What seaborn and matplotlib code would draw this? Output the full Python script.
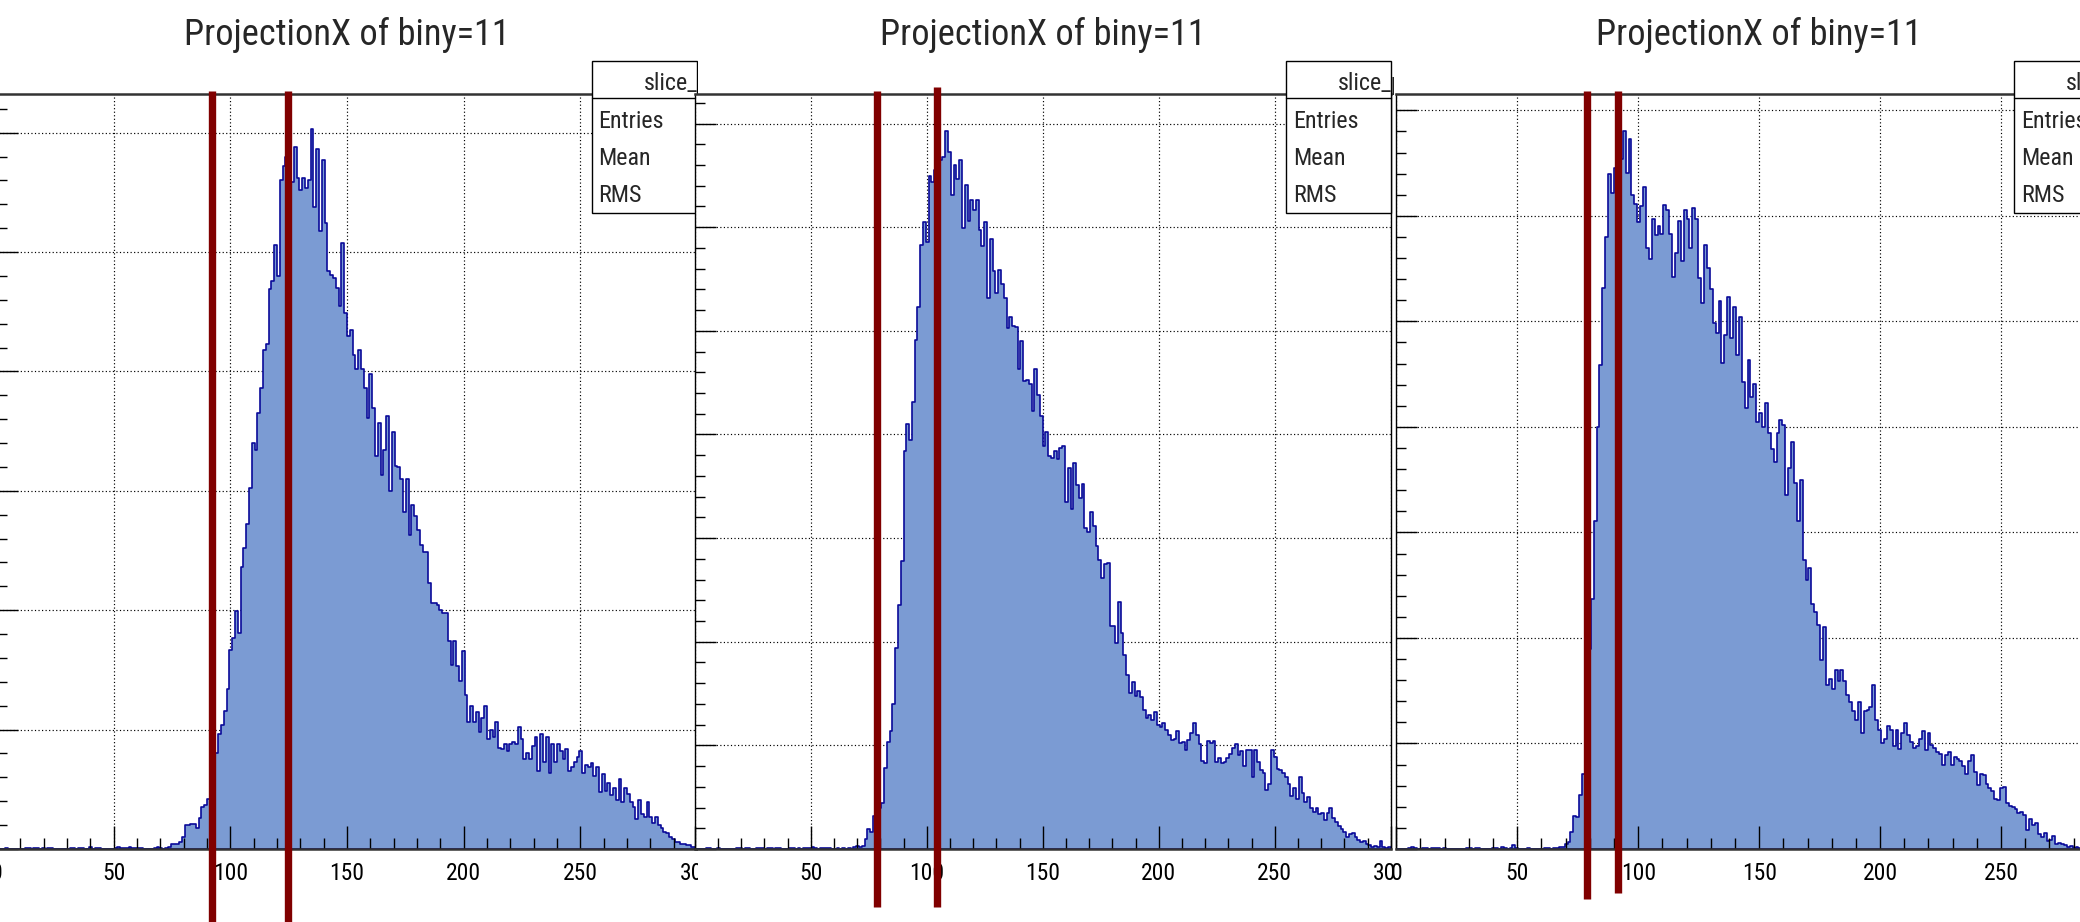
import os
import numpy as np
import pandas as pd
import matplotlib
matplotlib.use("Agg")
import matplotlib.pyplot as plt
import seaborn as sns
from matplotlib import font_manager
from matplotlib.font_manager import FontProperties
from matplotlib.lines import Line2D
from matplotlib.patches import Rectangle
from matplotlib.textpath import TextToPath
from matplotlib.ticker import MultipleLocator

# ---------------------------------------------------------------- data
TITLE = "ProjectionX of biny=11"
STATS_NAME = "slice_px"
STATS_ROWS = ["Entries", "Mean", "RMS"]
X_TICKS = [0, 50, 100, 150, 200, 250, 300]
X_MIN, X_MAX, N_BINS = 0, 300, 250

# bin contents, 250 bins of width 1.2 from 0 to 300
COUNTS_1 = [
    0, 0, 0, 1, 0, 0, 0, 0, 0, 0,
    1, 1, 0, 1, 1, 0, 1, 0, 1, 1,
    0, 0, 0, 0, 0, 0, 1, 1, 0, 1,
    1, 0, 0, 2, 0, 1, 1, 0, 0, 0,
    0, 0, 1, 2, 1, 1, 1, 2, 1, 1,
    1, 1, 0, 0, 0, 0, 1, 2, 1, 0,
    1, 2, 4, 4, 4, 6, 10, 20, 20, 21,
    21, 18, 26, 35, 37, 42, 50, 61, 80, 96,
    104, 116, 134, 167, 177, 199, 181, 236, 252, 272,
    302, 340, 334, 365, 386, 418, 423, 469, 476, 506,
    480, 560, 572, 580, 588, 559, 588, 562, 552, 562,
    554, 560, 603, 538, 586, 518, 577, 524, 484, 481,
    478, 470, 455, 508, 449, 430, 435, 414, 402, 418,
    402, 386, 361, 398, 369, 329, 357, 313, 334, 363,
    300, 349, 321, 320, 310, 282, 310, 263, 288, 279,
    267, 255, 249, 249, 223, 206, 206, 204, 200, 198,
    198, 174, 154, 174, 153, 141, 166, 129, 106, 120,
    106, 115, 98, 110, 120, 92, 100, 94, 106, 85,
    84, 88, 82, 88, 90, 88, 102, 92, 75, 80,
    75, 86, 94, 65, 96, 73, 94, 64, 88, 73,
    88, 82, 75, 84, 65, 69, 73, 77, 82, 64,
    70, 69, 72, 61, 69, 48, 63, 49, 55, 45,
    51, 41, 59, 39, 51, 46, 39, 35, 25, 41,
    29, 27, 39, 27, 22, 27, 20, 18, 14, 13,
    10, 8, 6, 6, 4, 4, 3, 3, 2, 2,
]
COUNTS_2 = [
    0, 0, 0, 0, 1, 1, 0, 0, 1, 0,
    0, 0, 0, 0, 0, 1, 1, 0, 1, 1,
    0, 0, 1, 1, 1, 0, 1, 1, 0, 1,
    1, 0, 0, 0, 1, 1, 0, 1, 0, 1,
    1, 1, 2, 1, 0, 1, 1, 1, 1, 0,
    0, 1, 0, 1, 0, 1, 0, 2, 3, 2,
    3, 10, 19, 16, 32, 36, 40, 44, 78, 103,
    114, 140, 194, 235, 278, 384, 410, 395, 431, 491,
    523, 583, 605, 586, 649, 644, 655, 660, 665, 668,
    693, 673, 631, 660, 646, 665, 599, 641, 606, 626,
    617, 626, 597, 582, 605, 532, 589, 558, 536, 559,
    545, 532, 503, 513, 505, 504, 463, 490, 452, 453,
    449, 423, 463, 438, 418, 389, 402, 379, 377, 384,
    376, 387, 389, 335, 368, 328, 372, 351, 339, 352,
    310, 306, 325, 312, 292, 279, 261, 275, 276, 215,
    215, 199, 238, 208, 187, 168, 151, 161, 148, 152,
    147, 134, 126, 129, 124, 132, 120, 118, 122, 115,
    110, 105, 106, 114, 102, 103, 96, 105, 112, 122,
    110, 101, 85, 83, 104, 102, 104, 84, 88, 83,
    84, 88, 92, 97, 101, 91, 95, 80, 96, 96,
    69, 96, 84, 76, 73, 57, 63, 96, 89, 77,
    76, 73, 69, 63, 51, 59, 48, 69, 54, 45,
    50, 40, 36, 40, 34, 35, 28, 35, 40, 30,
    26, 22, 19, 16, 12, 14, 15, 12, 9, 7,
    8, 5, 4, 2, 3, 2, 8, 2, 1, 2,
]
COUNTS_3 = [
    0, 0, 0, 0, 1, 2, 1, 0, 0, 1,
    1, 0, 1, 1, 1, 0, 1, 0, 0, 0,
    0, 0, 0, 0, 1, 1, 0, 1, 1, 0,
    0, 0, 0, 1, 1, 0, 2, 1, 0, 1,
    4, 1, 0, 0, 0, 1, 0, 0, 0, 0,
    0, 1, 1, 0, 1, 1, 2, 2, 5, 7,
    16, 31, 30, 51, 71, 120, 190, 237, 311, 400,
    459, 532, 580, 640, 622, 645, 650, 654, 680, 641,
    673, 620, 611, 594, 609, 627, 570, 559, 597, 582,
    590, 583, 610, 606, 583, 542, 565, 595, 557, 606,
    597, 570, 607, 597, 541, 517, 572, 551, 531, 498,
    489, 519, 461, 487, 523, 484, 514, 468, 504, 443,
    418, 463, 428, 441, 405, 413, 400, 423, 394, 379,
    367, 394, 407, 402, 335, 361, 386, 347, 311, 350,
    274, 255, 266, 232, 225, 212, 179, 210, 155, 161,
    152, 170, 159, 170, 159, 146, 139, 131, 122, 139,
    110, 131, 132, 135, 155, 122, 113, 100, 104, 117,
    113, 98, 113, 95, 110, 119, 108, 101, 96, 98,
    104, 112, 94, 110, 99, 96, 92, 90, 80, 89,
    92, 80, 87, 85, 83, 79, 71, 83, 89, 73,
    61, 71, 70, 62, 58, 55, 47, 46, 58, 59,
    44, 41, 40, 38, 34, 35, 32, 18, 28, 23,
    25, 14, 11, 15, 8, 9, 12, 5, 6, 5,
    4, 2, 3, 1, 2, 1, 2, 1, 0, 1,
    1, 0, 1, 0, 0, 1, 0, 0, 0, 0,
]
# cut positions marked on each projection
CUTS_1 = [92.0, 124.5]
CUTS_2 = [78.6, 104.6]
CUTS_3 = [78.9, 91.5]

# ---------------------------------------------------------------- layout (pixels)
W, H = 2080, 922
FRAME_TOP, FRAME_BOTTOM = 94.5, 849.0
BOX_TOP, BOX_RULE, BOX_BOTTOM = 61.0, 98.0, 213.0
ROW_BASELINES = [128, 165, 202]

PANELS = [
    dict(counts=COUNTS_1, cuts=CUTS_1, x0=-3.0, x1=697.0, ymax=632,
         canvas=None, box_w=105.5, zero_label=True,
         cut_span=[(91, 922), (91, 922)]),
    dict(counts=COUNTS_2, cuts=CUTS_2, x0=694.7, x1=1390.7, ymax=728,
         canvas=697.5, box_w=105.0, zero_label=False,
         cut_span=[(91, 907), (87, 907)]),
    dict(counts=COUNTS_3, cuts=CUTS_3, x0=1396.3, x1=2122.0, ymax=715,
         canvas=1393.5, box_w=108.0, zero_label=True,
         cut_span=[(91, 899), (91, 893)]),
]

FILL = "#7b9bd3"
EDGE = "#0a0a99"
CUT = "#800000"
FRAME = "#333333"

sns.set_theme(style="white")
plt.rcParams["font.family"] = ["Liberation Sans", "DejaVu Sans"]


# ---------------------------------------------------------------- fonts
def narrow_font_file():
    """Prefer a narrow Helvetica-like face; fall back to Liberation Sans."""
    prefixes = ("notosans-", "notosansdisplay-", "liberationsansnarrow",
                "robotocondensed", "roboto-condensed", "roboto_condensed",
                "opensans-condensed", "opensanscondensed")
    skip = ("bold", "light", "italic", "oblique", "thin", "black", "medium",
            "mono", "serif")
    best, best_rank = None, 99
    for f in font_manager.fontManager.ttflist:
        base = os.path.basename(f.fname).lower()
        if not base.startswith(prefixes) or any(s in base for s in skip):
            continue
        if "extracondensed" in base:
            rank = 0
        elif "narrow" in base:
            rank = 1
        elif "semicondensed" in base:
            rank = 3
        elif "condensed" in base:
            rank = 2
        else:
            continue
        if rank < best_rank:
            best, best_rank = f.fname, rank
    if best is None:
        best = font_manager.findfont(FontProperties(family="Liberation Sans"))
    return best


FONT_FILE = narrow_font_file()
_t2p = TextToPath()


def fitted_font(sample, width_px, cap_px):
    """Font size balancing the sample's width and cap height (pixels)."""
    prop = FontProperties(fname=FONT_FILE, size=100)
    w, _, _ = _t2p.get_text_width_height_descent(sample, prop, ismath=False)
    _, hc, _ = _t2p.get_text_width_height_descent("H", prop, ismath=False)
    px_per_pt = 100 / 72
    size_w = width_px / (w / 100 * px_per_pt)
    size_h = cap_px / (hc / 100 * px_per_pt)
    size = (size_w * size_h) ** 0.5
    return FontProperties(fname=FONT_FILE, size=size)


FP_TITLE = fitted_font(TITLE, 281, 30)
FP_TICK = fitted_font("150", 29, 20)
FP_STATS = fitted_font("Entries", 62.5, 18)


def fx(px):
    return px / W


def fy(py):
    return 1.0 - py / H


bin_w = (X_MAX - X_MIN) / N_BINS
centers = X_MIN + (np.arange(N_BINS) + 0.5) * bin_w
frame_h = FRAME_BOTTOM - FRAME_TOP

fig = plt.figure(figsize=(W / 100, H / 100), dpi=100)
fig.patch.set_facecolor("white")

for k, p in enumerate(PANELS):
    z = 10 * (k + 1)

    # each pad sits on its own white canvas, covering the one to its left
    if p["canvas"] is not None:
        fig.add_artist(Rectangle((fx(p["canvas"]), 0), 1.0, 1.0,
                                 transform=fig.transFigure, facecolor="white",
                                 edgecolor="none", zorder=z))

    pos = [fx(p["x0"]), fy(FRAME_BOTTOM), fx(p["x1"] - p["x0"]), frame_h / H]

    # histogram with the dotted grid underneath it
    ax = fig.add_axes(pos, zorder=z + 1)
    df = pd.DataFrame({"x": centers, "count": p["counts"]})
    sns.histplot(data=df, x="x", weights="count", bins=N_BINS,
                 binrange=(X_MIN, X_MAX), element="step", fill=True,
                 color=FILL, edgecolor=EDGE, linewidth=1.2, alpha=1.0, ax=ax)
    ax.set_xlim(X_MIN, X_MAX)
    ax.set_ylim(0, p["ymax"])
    ax.set_xlabel("")
    ax.set_ylabel("")
    ax.set_facecolor("white")
    ax.xaxis.set_major_locator(MultipleLocator(50))
    ax.yaxis.set_major_locator(MultipleLocator(100))
    ax.grid(True, which="major", color="#000000", linestyle=(0, (1, 2)),
            linewidth=0.85)
    ax.set_axisbelow(True)
    ax.tick_params(which="both", length=0, labelbottom=False, labelleft=False)
    for s in ax.spines.values():
        s.set_visible(False)

    # frame, inward ticks and labels drawn above the filled histogram
    ov = fig.add_axes(pos, zorder=z + 2)
    ov.patch.set_visible(False)
    ov.set_xlim(X_MIN, X_MAX)
    ov.set_ylim(0, p["ymax"])
    ov.xaxis.set_minor_locator(MultipleLocator(10))
    ov.yaxis.set_major_locator(MultipleLocator(100))
    ov.yaxis.set_minor_locator(MultipleLocator(20))
    ov.grid(False)
    ov.tick_params(which="both", bottom=True, left=True, top=False, right=False,
                   direction="in", color="black", width=1.0)
    ov.tick_params(axis="x", which="major", length=16.3, pad=9.4,
                   labelcolor="black")
    ov.tick_params(axis="x", which="minor", length=8.0)
    ov.tick_params(axis="y", which="major", length=15.4, labelleft=False)
    ov.tick_params(axis="y", which="minor", length=7.2)
    ov.set_xticks(X_TICKS)
    ov.set_xticklabels([str(t) if (t != 0 or p["zero_label"]) else ""
                        for t in X_TICKS], fontproperties=FP_TICK)
    for side in ("top", "bottom"):
        ov.spines[side].set_linewidth(1.8)
        ov.spines[side].set_color(FRAME)
    for side in ("left", "right"):
        ov.spines[side].set_linewidth(1.0)
        ov.spines[side].set_color("black")

    # cut markers
    for x, (top, bot) in zip(p["cuts"], p["cut_span"]):
        ov.axvline(x, ymin=(FRAME_BOTTOM - bot) / frame_h,
                   ymax=(FRAME_BOTTOM - top) / frame_h, color=CUT,
                   linewidth=5.3, solid_capstyle="butt", clip_on=False,
                   zorder=5)

    # statistics box
    bx1 = p["x1"]
    bx0 = bx1 - p["box_w"]
    fig.add_artist(Rectangle((fx(bx0), fy(BOX_BOTTOM)), fx(bx1 - bx0),
                             (BOX_BOTTOM - BOX_TOP) / H,
                             transform=fig.transFigure, facecolor="white",
                             edgecolor="black", linewidth=1.0, zorder=z + 3))
    fig.add_artist(Line2D([fx(bx0), fx(bx1)], [fy(BOX_RULE), fy(BOX_RULE)],
                          transform=fig.transFigure, color="black",
                          linewidth=1.0, zorder=z + 3))
    fig.text(fx(bx0 + 52), fy(90), STATS_NAME, fontproperties=FP_STATS,
             ha="left", va="baseline", zorder=z + 4)
    for row, yb in zip(STATS_ROWS, ROW_BASELINES):
        fig.text(fx(bx0 + 7), fy(yb), row, fontproperties=FP_STATS,
                 ha="left", va="baseline", zorder=z + 4)

    # pad title
    fig.text(fx(0.5 * (p["x0"] + p["x1"])), fy(45), TITLE,
             fontproperties=FP_TITLE, ha="center", va="baseline", zorder=z + 4)

fig.savefig("out.png", dpi=100, facecolor="white")
